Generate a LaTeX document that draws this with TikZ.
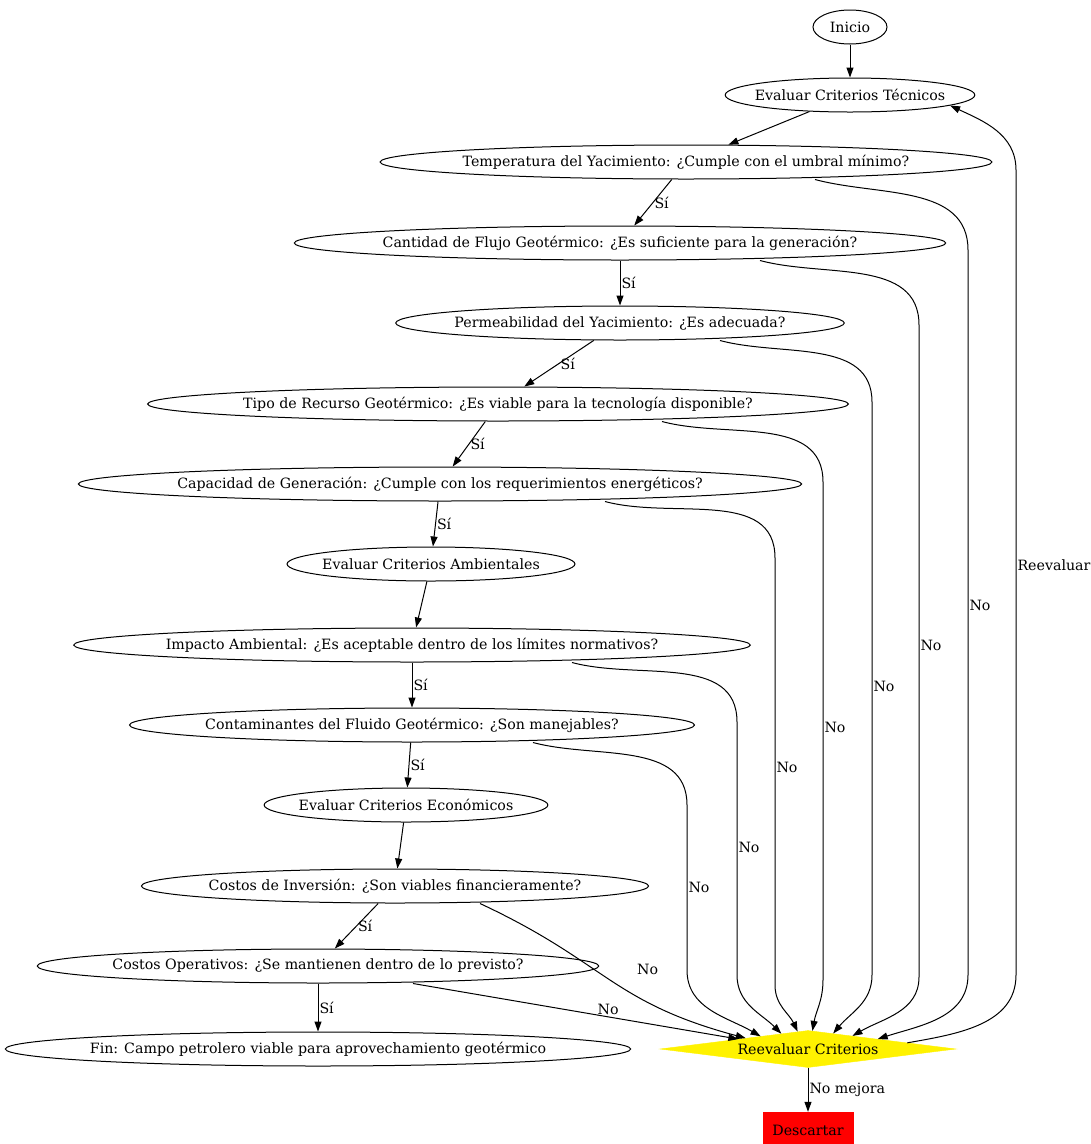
\documentclass[tikz,border=0pt]{standalone}
\usepackage{fontspec}
\setmainfont{DejaVu Serif}
\usetikzlibrary{arrows.meta,shapes.geometric,calc}

\begin{document}
\begin{tikzpicture}[
  x=1pt, y=1pt,
  every node/.style={font=\fontsize{14.2}{17}\selectfont},
  box/.style={draw, ellipse, line width=1pt, inner xsep=-7pt, inner ysep=0pt,
              minimum width=74pt, minimum height=34pt},
  arr/.style={-{Triangle[length=10pt,width=7pt]}, line width=1pt},
  lbl/.style={right, inner sep=1pt}
]
\useasboundingbox (0,0) rectangle (1091,-1144);

% technical criteria
\node[box] (ini)  at (850,-27)  {Inicio};
\node[box] (evt)  at (850,-95)  {Evaluar Criterios Técnicos};
\node[box] (temp) at (686,-162) {Temperatura del Yacimiento: ¿Cumple con el umbral mínimo?};
\node[box] (cant) at (620,-243) {Cantidad de Flujo Geotérmico: ¿Es suficiente para la generación?};
\node[box] (perm) at (620,-323) {Permeabilidad del Yacimiento: ¿Es adecuada?};
\node[box] (tipo) at (498,-404) {Tipo de Recurso Geotérmico: ¿Es viable para la tecnología disponible?};
\node[box] (capa) at (440,-484) {Capacidad de Generación: ¿Cumple con los requerimientos energéticos?};
% environmental criteria
\node[box] (eamb) at (431,-564) {Evaluar Criterios Ambientales};
\node[box] (imp)  at (412,-645) {Impacto Ambiental: ¿Es aceptable dentro de los límites normativos?};
\node[box] (cont) at (412,-725) {Contaminantes del Fluido Geotérmico: ¿Son manejables?};
% economic criteria
\node[box] (eeco) at (406,-805) {Evaluar Criterios Económicos};
\node[box] (inv)  at (395,-886) {Costos de Inversión: ¿Son viables financieramente?};
\node[box] (oper) at (318,-966) {Costos Operativos: ¿Se mantienen dentro de lo previsto?};
\node[box] (fin)  at (318,-1049) {Fin: Campo petrolero viable para aprovechamiento geotérmico};

\node[diamond, aspect=8, fill=yellow, draw=yellow, inner sep=0pt,
      minimum width=296pt, minimum height=37pt] (rev) at (808,-1049) {Reevaluar Criterios};
\node[rectangle, fill=red, draw=red, minimum width=90pt, minimum height=36pt] (desc) at (808,-1130) {Descartar};

% main chain
\draw[arr] (ini)  -- (evt);
\draw[arr] (evt)  -- (temp);
\draw[arr] (temp) -- node[lbl] {Sí} (cant);
\draw[arr] (cant) -- node[lbl] {Sí} (perm);
\draw[arr] (perm) -- node[lbl] {Sí} (tipo);
\draw[arr] (tipo) -- node[lbl] {Sí} (capa);
\draw[arr] (capa) -- node[lbl] {Sí} (eamb);
\draw[arr] (eamb) -- (imp);
\draw[arr] (imp)  -- node[lbl] {Sí} (cont);
\draw[arr] (cont) -- node[lbl] {Sí} (eeco);
\draw[arr] (eeco) -- (inv);
\draw[arr] (inv)  -- node[lbl] {Sí} (oper);
\draw[arr] (oper) -- node[lbl] {Sí} (fin);

% "No" branches into the reevaluation
\draw[arr] ([xshift=129pt]temp.south) to[out=-15,in=90] (968,-250) -- (968,-605) node[lbl] {No}
  -- (968,-975) to[out=-90,in=18] ($(rev.north)!0.47!(rev.east)$);
\draw[arr] ([xshift=140pt]cant.south) to[out=-15,in=90] (919,-325) -- (919,-645) node[lbl] {No}
  -- (919,-977) to[out=-90,in=30] ($(rev.north)!0.30!(rev.east)$);
\draw[arr] ([xshift=100pt]perm.south) to[out=-15,in=90] (872,-402) -- (872,-686) node[lbl] {No}
  -- (872,-975) to[out=-90,in=50] ($(rev.north)!0.17!(rev.east)$);
\draw[arr] ([xshift=164pt]tipo.south) to[out=-15,in=90] (823,-482) -- (823,-727) node[lbl] {No}
  -- (823,-980) to[out=-90,in=80] ($(rev.north)!0.03!(rev.east)$);
\draw[arr] ([xshift=165pt]capa.south) to[out=-15,in=90] (775,-558) -- (775,-767) node[lbl] {No}
  -- (775,-985) to[out=-90,in=115] ($(rev.north)!0.07!(rev.west)$);
\draw[arr] ([xshift=160pt]imp.south) to[out=-15,in=90] (737,-722) -- (737,-847) node[lbl] {No}
  -- (737,-975) to[out=-90,in=135] ($(rev.north)!0.18!(rev.west)$);
\draw[arr] ([xshift=121pt]cont.south) to[out=-15,in=90] (687,-805) -- (687,-887) node[lbl] {No}
  -- (687,-970) to[out=-90,in=150] ($(rev.north)!0.32!(rev.west)$);
\draw[arr] ([xshift=85pt]inv.south) to[out=-25,in=165,looseness=1.2]
  node[lbl, pos=0.45, xshift=36pt, yshift=3pt] {No} ($(rev.north)!0.42!(rev.west)$);
\draw[arr] ([xshift=95pt]oper.south) -- node[above, pos=0.6, inner sep=2pt] {No}
  ($(rev.north)!0.47!(rev.west)$);

% back to the start, or discard
\draw[arr] ($(rev.north)!0.67!(rev.east)$) to[out=10,in=-90] (1016,-975) -- (1016,-565) node[lbl] {Reevaluar}
  -- (1016,-170) to[out=90,in=-25] (evt.-6);
\draw[arr] (rev) -- node[lbl] {No mejora} (desc);
\end{tikzpicture}
\end{document}
